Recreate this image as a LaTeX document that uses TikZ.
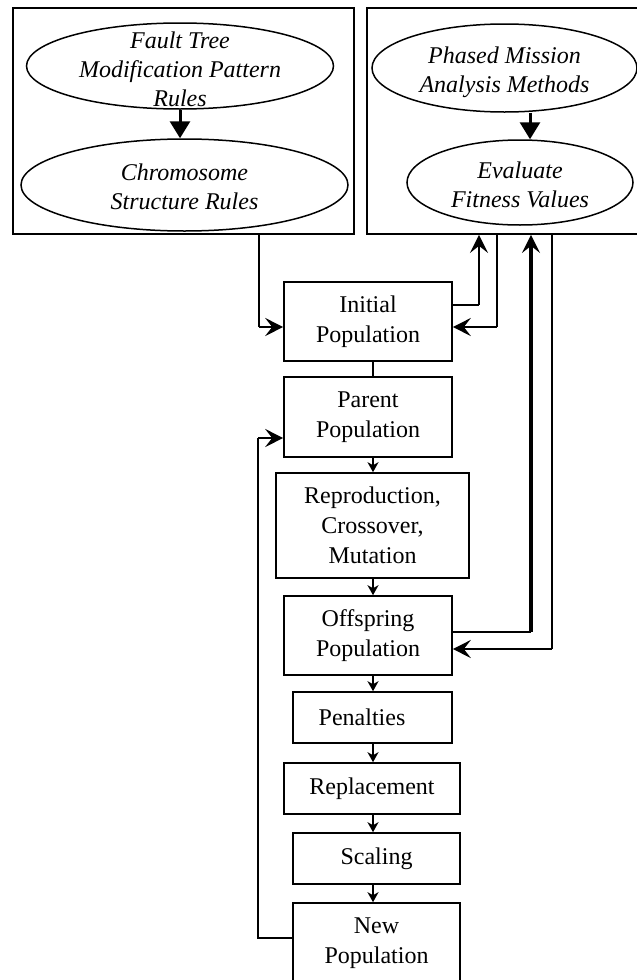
\documentclass[tikz,border=0pt]{standalone}
\usepackage{fontspec}
\setmainfont{Liberation Serif}
\usetikzlibrary{arrows.meta,shapes.geometric}
\begin{document}
\begin{tikzpicture}[x=1pt,y=-1pt,
  box/.style={draw, line width=1.6pt, rectangle, inner sep=0pt, align=center, font=\fontsize{24}{30}\selectfont},
  ell/.style={draw, line width=1.5pt, ellipse, inner sep=0pt},
  elltext/.style={inner sep=0pt, align=center, font=\fontsize{24}{29}\selectfont\itshape},
  frame/.style={draw, line width=1.8pt, rectangle, inner sep=0pt},
  big/.style={-{Stealth[length=18pt,width=18pt,inset=7pt]}},
  small/.style={-{Stealth[length=10pt,width=11pt,inset=3pt]}},
  tri/.style={-{Triangle[length=17pt,width=20pt]}},
  thk/.style={line width=2.4pt},
  thn/.style={line width=1.6pt}]
\useasboundingbox (0,0) rectangle (637,980);

% frames
\node[frame, minimum width=341pt, minimum height=226pt] (lbox) at (183.5,121) {};
\node[frame, minimum width=273pt, minimum height=226pt] (rbox) at (503.5,121) {};

% ellipses
\node[ell, minimum width=307pt, minimum height=86pt] (ft) at (180,66) {};
\node[elltext] (ftt) at (180,69) {Fault Tree\\Modification Pattern\\Rules};
\node[ell, minimum width=327pt, minimum height=92pt] (cs) at (184.5,185) {};
\node[elltext] (cst) at (184.5,187) {Chromosome\\Structure Rules};
\node[ell, minimum width=265pt, minimum height=88pt] (pm) at (504.5,68) {};
\node[elltext] (pmt) at (504.5,72) {Phased Mission\\Analysis Methods};
\node[ell, minimum width=226pt, minimum height=85pt] (ev) at (520,182.5) {};
\node[elltext] (evt) at (520,185) {Evaluate\\Fitness Values};

% main chain
\node[box, minimum width=168pt, minimum height=79pt] (init) at (368,321.5) {Initial\\Population};
\node[box, minimum width=168pt, minimum height=80pt] (parent) at (368,417) {Parent\\Population};
\node[box, minimum width=193pt, minimum height=105pt] (repro) at (372.5,525.5) {Reproduction,\\Crossover,\\Mutation};
\node[box, minimum width=168pt, minimum height=79pt] (off) at (368,635.5) {Offspring\\Population};
\node[box, minimum width=159pt, minimum height=51pt] (pen) at (372.5,717.5) {\hspace*{0pt}Penalties\hspace*{21pt}};
\node[box, minimum width=176pt, minimum height=51pt] (rep) at (372,788.5) {Replacement};
\node[box, minimum width=167pt, minimum height=51pt] (sca) at (376.5,858.5) {Scaling};
\node[box, minimum width=167pt, minimum height=80pt] (newp) at (376.5,943) {New\\Population};

% helper coordinates
\coordinate (cx) at (373,0);
\coordinate (ca) at (530,0);
\coordinate (c1) at (259,327);
\coordinate (c2) at (479,305);
\coordinate (c3) at (497,327);
\coordinate (c4) at (531,632);
\coordinate (c5) at (552,649);
\coordinate (c6) at (258,438);
\coordinate (c7) at (258,938);

% ellipse arrows
\draw[line width=3pt, tri] (ft.south) -- (cs.north -| ft.south);
\draw[line width=3pt, tri] (pm.south -| ca) -- (ev.north -| ca);

% chain arrows
\draw[thk] (init.south -| cx) -- (parent.north -| cx);
\draw[line width=2.6pt, small] (parent.south -| cx) -- (repro.north -| cx);
\draw[line width=2.6pt, small] (repro.south -| cx) -- (off.north -| cx);
\draw[line width=2.6pt, small] (off.south -| cx) -- (pen.north -| cx);
\draw[line width=2.6pt, small] (pen.south -| cx) -- (rep.north -| cx);
\draw[line width=2.6pt, small] (rep.south -| cx) -- (sca.north -| cx);
\draw[line width=2.6pt, small] (sca.south -| cx) -- (newp.north -| cx);

% left frame to initial
\draw[thn] (lbox.south -| c1) -- (c1);
\draw[thk, big] (c1) -- (init.west |- c1);

% initial <-> evaluate
\draw[thk] (init.east |- c2) -- (c2);
\draw[thk, big] (c2) -- (rbox.south -| c2);
\draw[thn] (rbox.south -| c3) -- (c3);
\draw[thk, big] (c3) -- (init.east |- c3);

% offspring <-> evaluate
\draw[thn] (off.east |- c4) -- (c4);
\draw[line width=3.2pt, big] (c4) -- (rbox.south -| c4);
\draw[thn] (rbox.south -| c5) -- (c5);
\draw[thk, big] (c5) -- (off.east |- c5);

% loop back
\draw[thn] (newp.west |- c7) -- (c7) -- (c6);
\draw[thk, big] (c6) -- (parent.west |- c6);
\end{tikzpicture}
\end{document}
